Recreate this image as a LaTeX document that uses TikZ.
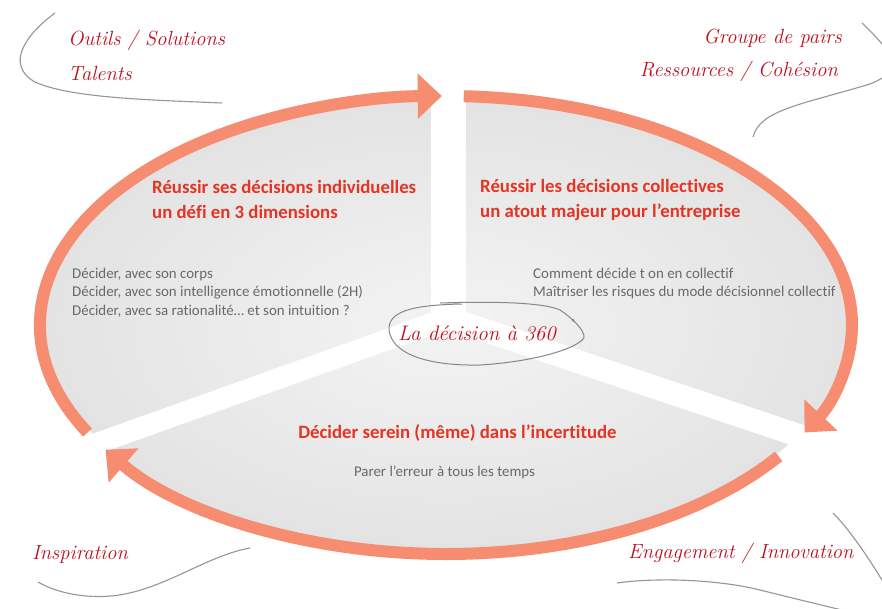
\documentclass[tikz,border=0pt]{standalone}
\usepackage{fontspec}
\newfontfamily\carl{Carlito}[Ligatures=NoCommon]
\usetikzlibrary{arrows.meta}
\definecolor{arrowc}{RGB}{246,140,112}
\definecolor{titlered}{RGB}{229,52,36}
\definecolor{handred}{RGB}{190,16,28}
\definecolor{txtgray}{RGB}{105,105,105}
\definecolor{curlgray}{RGB}{150,150,150}
\tikzset{
  band/.style={line width=12pt, arrowc},
  bandarrow/.style={band, -{Triangle[length=24pt,width=44pt]}},
  gapline/.style={white},
  title/.style={font=\carl\bfseries\fontsize{18.8}{25}\selectfont, text=titlered, align=left, inner sep=0pt},
  body/.style={font=\carl\fontsize{14.9}{18.5}\selectfont, text=txtgray, align=left, inner sep=0pt},
  hand/.style={font=\itshape\fontsize{20.5}{24}\selectfont, text=handred, inner sep=0pt},
  curl/.style={curlgray, line width=1.1pt},
}
\begin{document}
\begin{tikzpicture}[x=1pt,y=-1pt]
\useasboundingbox (0,0) rectangle (882,609);
\clip (0,0) rectangle (882,609);
\fill[white] (0,0) rectangle (882,609);
% gray ellipse
\coordinate (C) at (446,325);
\shade[inner color=gray!9, outer color=gray!22] (C) ellipse[x radius=403pt, y radius=226pt];
% white gaps
\coordinate (M) at (448,318);
\coordinate (gt) at (448,60);
\coordinate (gl) at (70,453);
\coordinate (gr) at (830,446);
\draw[gapline, line width=35pt] (M) -- (gt);
\draw[gapline, line width=21pt] (M) -- (gl);
\draw[gapline, line width=23pt] (M) -- (gr);
% arrow arcs
\draw[bandarrow] (C) ++(208:406pt and 229pt) arc[start angle=208, end angle=90.6, x radius=406pt, y radius=229pt];
\draw[bandarrow] (C) ++(87.5:406pt and 229pt) arc[start angle=87.5, end angle=-28, x radius=406pt, y radius=229pt];
\draw[bandarrow] (C) ++(-35:406pt and 229pt) arc[start angle=-35, end angle=-147, x radius=406pt, y radius=229pt];
% sector texts
\node[title, anchor=west] (t1) at (152,199.5) {Réussir ses décisions individuelles\\un défi en 3 dimensions};
\node[title, anchor=west] (t2) at (480,199.5) {Réussir les décisions collectives\\un atout majeur pour l’entreprise};
\node[title] (t3) at (457.5,433) {Décider serein (même) dans l’incertitude};
\node[body, anchor=west] (b1) at (72,292.5) {Décider, avec son corps\\Décider, avec son intelligence émotionnelle (2H)\\Décider, avec sa rationalité… et son intuition ?};
\node[body, anchor=west] (b2) at (533,283.5) {Comment décide t on en collectif\\Maîtriser les risques du mode décisionnel collectif};
\node[body] (b3) at (444.5,472) {Parer l’erreur à tous les temps};
% center label
\draw[curl, line width=1pt, curlgray!90!black] (440,303) .. controls (500,301) and (545,303) .. (560,310) .. controls (572,318) and (585,330) .. (584,338) .. controls (575,350) and (530,362) .. (480,365) .. controls (430,366) and (392,355) .. (389,330) .. controls (388,312) and (410,305) .. (462,304);
\node[hand, anchor=west, font=\itshape\fontsize{21}{24}\selectfont] (lab) at (398,333) {La décision à 360};
\node[hand, font=\fontsize{9}{9}\selectfont] (deg) at (573,322) {°};
% corner texts
\node[hand, anchor=west] (o1) at (68,40) {Outils / Solutions};
\node[hand, anchor=west] (o2) at (68,73) {Talents};
\node[hand, anchor=east] (g1) at (842,38) {Groupe de pairs};
\node[hand, anchor=east] (g2) at (838,71) {Ressources / Cohésion};
\node[hand, anchor=west] (i1) at (32,554) {Inspiration};
\node[hand, anchor=west] (e1) at (628,553) {Engagement / Innovation};
% curls
\draw[curl] (55,13) .. controls (25,35) and (5,65) .. (35,82) .. controls (70,98) and (150,100) .. (222,103);
\draw[curl] (862,23) .. controls (895,55) and (905,70) .. (870,84) .. controls (800,105) and (760,110) .. (753,137);
\draw[curl] (38,582) .. controls (60,595) and (95,600) .. (125,594) .. controls (170,585) and (210,555) .. (250,548);
\draw[curl] (617,583) .. controls (660,577) and (720,580) .. (760,590) .. controls (800,600) and (830,607) .. (850,612);
\draw[curl] (833,513) .. controls (850,530) and (870,560) .. (885,585);
\end{tikzpicture}
\end{document}
